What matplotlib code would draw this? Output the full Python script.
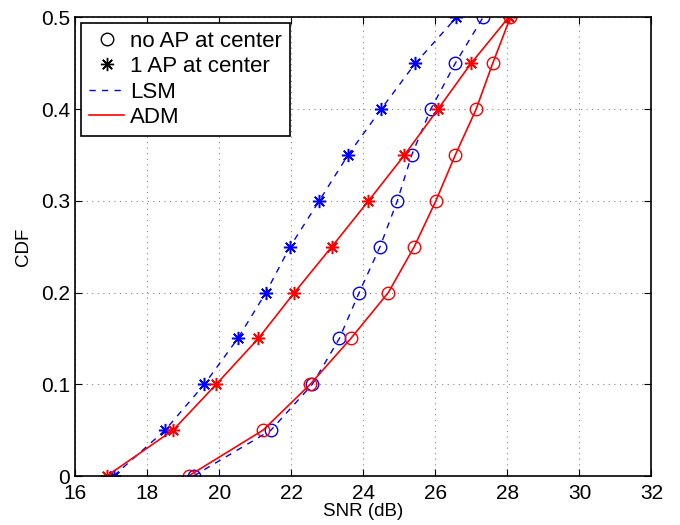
import matplotlib
matplotlib.use("Agg")
import matplotlib.pyplot as plt
from matplotlib.lines import Line2D

plt.rcParams['font.family'] = ['Liberation Sans', 'DejaVu Sans']

cdf = [0.0, 0.05, 0.10, 0.15, 0.20, 0.25, 0.30, 0.35, 0.40, 0.45, 0.50]
lsm_noap = [19.28, 21.43, 22.58, 23.33, 23.88, 24.46, 24.94, 25.34, 25.87, 26.55, 27.32]
lsm_1ap = [17.06, 18.49, 19.58, 20.51, 21.29, 21.96, 22.77, 23.57, 24.49, 25.44, 26.58]
adm_noap = [19.14, 21.21, 22.52, 23.65, 24.69, 25.41, 26.01, 26.55, 27.13, 27.59, 28.08]
adm_1ap = [16.87, 18.71, 19.91, 21.08, 22.08, 23.12, 24.14, 25.14, 26.07, 26.99, 28.03]

xticks = [16, 18, 20, 22, 24, 26, 28, 30, 32]
yticks = [0, 0.1, 0.2, 0.3, 0.4, 0.5]
yticklabels = ['0', '0.1', '0.2', '0.3', '0.4', '0.5']

fig = plt.figure(figsize=(6.8, 5.25), dpi=100)
ax = fig.add_axes([0.111, 0.0933, 0.847, 0.8734])

star = (8, 2, 0)
circ_ms = 9
star_ms = 9.5
dash = (0, (4.5, 4.5))

ax.plot(lsm_noap, cdf, color='blue', ls=dash, lw=1, marker='o', ms=circ_ms,
        mfc='none', mec='blue', mew=1)
ax.plot(lsm_1ap, cdf, color='blue', ls=dash, lw=1, marker=star, ms=star_ms,
        mec='blue', mew=1.1)
ax.plot(adm_noap, cdf, color='red', ls='-', lw=1.2, marker='o', ms=circ_ms,
        mfc='none', mec='red', mew=1)
ax.plot(adm_1ap, cdf, color='red', ls='-', lw=1.2, marker=star, ms=star_ms,
        mec='red', mew=1.1)

ax.set_xlim(16, 32)
ax.set_ylim(0, 0.5)
ax.set_xticks(xticks)
ax.set_xticklabels([str(t) for t in xticks])
ax.set_yticks(yticks)
ax.set_yticklabels(yticklabels)
ax.tick_params(direction='in', labelsize=15, length=5, width=0.8, top=True, right=True)
ax.tick_params(axis='x', pad=6)
ax.tick_params(axis='y', pad=4)
ax.grid(True, ls=(0, (1, 4)), color='#888888', lw=0.8)
for s in ax.spines.values():
    s.set_linewidth(1.2)
ax.set_xlabel('SNR (dB)', fontsize=13.5, labelpad=0)
ax.set_ylabel('CDF', fontsize=13.5, labelpad=6)

handles = [
    Line2D([], [], ls='none', marker='o', ms=circ_ms, mfc='none', mec='black', mew=1),
    Line2D([], [], ls='none', marker=star, ms=star_ms, mec='black', mew=1),
    Line2D([], [], color='blue', ls=dash, lw=1),
    Line2D([], [], color='red', ls='-', lw=1.2),
]
labels = ['no AP at center', '1 AP at center', 'LSM', 'ADM']
leg = ax.legend(handles, labels, loc='upper left', fontsize=16, frameon=True,
                fancybox=False, edgecolor='black', framealpha=1,
                borderaxespad=0.25, handlelength=1.6, handletextpad=0.25,
                labelspacing=0.2, borderpad=0.35)
leg.get_frame().set_linewidth(1.2)

fig.savefig('out.png', dpi=100)
